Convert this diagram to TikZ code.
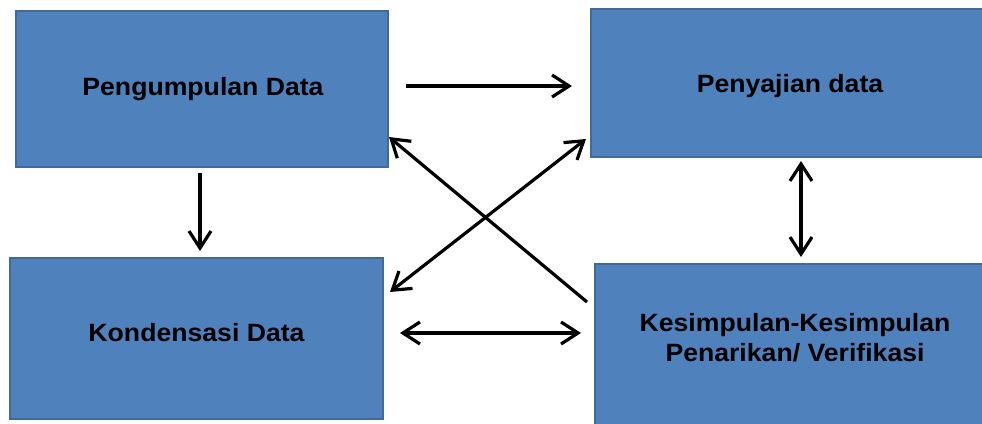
\documentclass[tikz,border=0pt]{standalone}
\usepackage{fontspec}
\setmainfont{Liberation Sans}[FakeStretch=1.065]
\usetikzlibrary{arrows.meta}
\definecolor{boxfill}{HTML}{4F81BD}
\definecolor{boxedge}{HTML}{42699A}
\begin{document}
\begin{tikzpicture}[x=1pt,y=-1pt,
  blockbox/.style={draw=boxedge,fill=boxfill,line width=1.5pt,rectangle,inner sep=0pt},
  lbl/.style={font=\fontsize{25}{30}\selectfont\bfseries,align=center,inner sep=0pt,anchor=base},
  arr/.style={line width=3.2pt,-{Straight Barb[length=17pt,width=22pt]}},
  darr/.style={line width=3.2pt,{Straight Barb[length=17pt,width=22pt]}-{Straight Barb[length=17pt,width=22pt]}}]
\useasboundingbox (0,0) rectangle (982,423);
\clip (0,0) rectangle (982,423);
\fill[white] (0,0) rectangle (982,423);
% boxes
\node[blockbox,minimum width=372pt,minimum height=156pt] (b1) at (202,89) {};
\node[blockbox,minimum width=396pt,minimum height=148pt] (b2) at (789,83) {};
\node[blockbox,minimum width=373pt,minimum height=161pt] (b3) at (196.5,338.5) {};
\node[blockbox,minimum width=400pt,minimum height=164pt] (b4) at (795,346) {};
% texts
\node[lbl] (t1) at (203,95) {Pengumpulan Data};
\node[lbl] (t2) at (790,92.7) {Penyajian data};
\node[lbl] (t3) at (196.5,341.7) {Kondensasi Data};
\node[lbl,anchor=center] (t4) at (795,337.7) {Kesimpulan-Kesimpulan\\Penarikan/ Verifikasi};
% arrow end points
\coordinate (p1a) at (406,86);   \coordinate (p1b) at (572,86);
\coordinate (p2a) at (200,173);  \coordinate (p2b) at (200,251);
\coordinate (p3a) at (390,292);  \coordinate (p3b) at (586,139);
\coordinate (p4a) at (587,302);  \coordinate (p4b) at (389,137);
\coordinate (p5a) at (801,161);  \coordinate (p5b) at (801,257);
\coordinate (p6a) at (400,333);  \coordinate (p6b) at (581,333);
% connectors
\draw[arr] (p1a) -- (p1b);
\draw[arr] (p2a) -- (p2b);
\draw[darr] (p3a) -- (p3b);
\draw[arr] (p4a) -- (p4b);
\draw[darr] (p5a) -- (p5b);
\draw[darr] (p6a) -- (p6b);
\end{tikzpicture}
\end{document}
